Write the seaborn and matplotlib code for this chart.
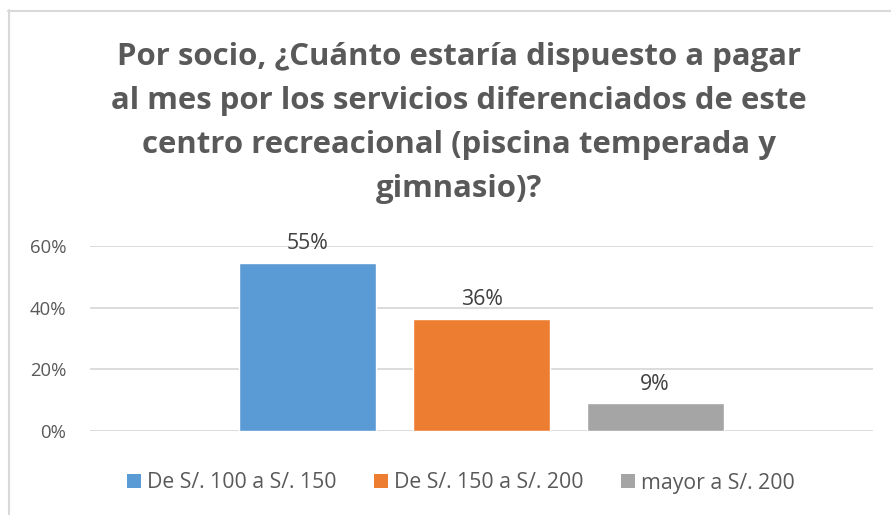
import matplotlib
matplotlib.use("Agg")
import matplotlib.pyplot as plt
from matplotlib.patches import Patch
from matplotlib.lines import Line2D
import seaborn as sns
import pandas as pd

# ------------------------------------------------------------------
# Data
# ------------------------------------------------------------------
title = ("Por socio, ¿Cuánto estaría dispuesto a pagar\n"
         "al mes por los servicios diferenciados de este\n"
         "centro recreacional (piscina temperada y\n"
         "gimnasio)?")
rangos = ["De S/. 100 a S/. 150", "De S/. 150 a S/. 200", "mayor a S/. 200"]
porcentajes = [0.546, 0.364, 0.091]
colores = ["#5B9BD5", "#ED7D31", "#A5A5A5"]
yticks = [0.0, 0.2, 0.4, 0.6]

df = pd.DataFrame({"grupo": [""] * len(rangos), "rango": rangos, "pct": porcentajes})

# ------------------------------------------------------------------
# Figure
# ------------------------------------------------------------------
sns.set_theme(style="white")
plt.rcParams["font.family"] = ["Open Sans", "DejaVu Sans"]

W, H = 891, 515
fig = plt.figure(figsize=(W / 100, H / 100), dpi=100)
ax = fig.add_axes([90 / W, (H - 431) / H, (873 - 90) / W, (431 - 246) / H])

sns.barplot(data=df, x="grupo", y="pct", hue="rango", palette=colores,
            width=0.665, gap=0.21, saturation=1, ax=ax, legend=False)

ax.set_xlim(-0.5, 0.5)
ax.set_ylim(0, 0.6)
ax.set_yticks(yticks)
ax.set_yticklabels([f"{t:.0%}" for t in yticks], color="#595959", fontsize=13.3)
ax.set_xticks([])
ax.set_xlabel("")
ax.set_ylabel("")
ax.tick_params(axis="y", length=0, pad=17)
ax.grid(axis="y", color="#D9D9D9", linewidth=1.3)
ax.set_axisbelow(True)
for s in ax.spines.values():
    s.set_visible(False)

for cont, v in zip(ax.containers, porcentajes):
    ax.bar_label(cont, labels=[f"{v:.0%}"], padding=6, color="#404040", fontsize=15.3)

fig.text(459 / W, 1 - 123 / H, title, ha="center", va="center",
         fontsize=22.4, fontweight="bold", color="#595959", linespacing=1.62)

handles = [Patch(facecolor=c, edgecolor="none") for c in colores]
fig.legend(handles, rangos, loc="center", bbox_to_anchor=(461 / W, 1 - 483 / H),
           ncol=3, frameon=False, fontsize=15.3, labelcolor="#595959",
           handlelength=0.65, handleheight=0.65, handletextpad=0.3,
           columnspacing=1.75)

# chart border (top and left edges visible)
fig.add_artist(Line2D([8 / W, 1], [1 - 10.5 / H, 1 - 10.5 / H], color="#D9D9D9", lw=1.5))
fig.add_artist(Line2D([8.5 / W, 8.5 / W], [0, 1 - 10 / H], color="#D9D9D9", lw=1.5))

fig.savefig("out.png", dpi=100, facecolor="white")
